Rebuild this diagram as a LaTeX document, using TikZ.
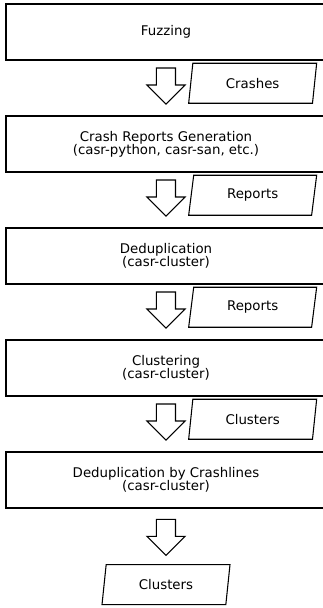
\documentclass[tikz,border=0pt]{standalone}
\usepackage{fontspec}
\setmainfont{DejaVu Sans}
\usetikzlibrary{positioning}
\usetikzlibrary{shapes.geometric}
\usetikzlibrary{shapes.arrows}
\usetikzlibrary{calc}

\tikzset{
  stage/.style={rectangle,minimum width=240pt,minimum height=42pt,align=center,outer sep=0pt,
    font=\fontsize{10}{10}\selectfont,
    append after command={\pgfextra{\draw[line width=0.8pt] (\tikzlastnode.north east)
      -- (\tikzlastnode.north west) -- (\tikzlastnode.south west) -- (\tikzlastnode.south east);}}},
  data/.style={draw,trapezium,trapezium left angle=68,trapezium right angle=112,
    trapezium stretches body,line width=0.8pt,minimum width=96pt,minimum height=30pt,
    inner sep=0pt,outer sep=0pt,font=\fontsize{10}{10}\selectfont},
  flow/.style={draw,single arrow,shape border rotate=270,line width=0.8pt,
    minimum height=27pt,minimum width=25.5pt,inner sep=6.75pt,outer sep=0pt}
}

\begin{document}
\begin{tikzpicture}
  \useasboundingbox (-124.5pt,24pt) rectangle (117.75pt,-432pt);
  % stages
  \node[stage] (fuzz) at (0,0) {Fuzzing};
  \node[stage,below=42pt of fuzz] (gen) {Crash Reports Generation\\(casr-python, casr-san, etc.)};
  \node[stage,below=42pt of gen] (dedup) {Deduplication\\(casr-cluster)};
  \node[stage,below=42pt of dedup] (clust) {Clustering\\(casr-cluster)};
  \node[stage,below=42pt of clust] (lines) {Deduplication by Crashlines\\(casr-cluster)};

  % flow arrows and data
  \node[flow,below=6pt of fuzz] (f1) {};
  \node[data] (crashes) at ($(f1)+(65pt,-1.5pt)$) {Crashes};
  \node[flow,below=6pt of gen] (f2) {};
  \node[data] (reports1) at ($(f2)+(65pt,-1.5pt)$) {Reports};
  \node[flow,below=6pt of dedup] (f3) {};
  \node[data] (reports2) at ($(f3)+(65pt,-1.5pt)$) {Reports};
  \node[flow,below=6pt of clust] (f4) {};
  \node[data] (clusters1) at ($(f4)+(65pt,-1.5pt)$) {Clusters};
  \node[flow,below=8.5pt of lines] (f5) {};
  \node[data,below=7pt of f5] (clusters2) {Clusters};
\end{tikzpicture}
\end{document}
